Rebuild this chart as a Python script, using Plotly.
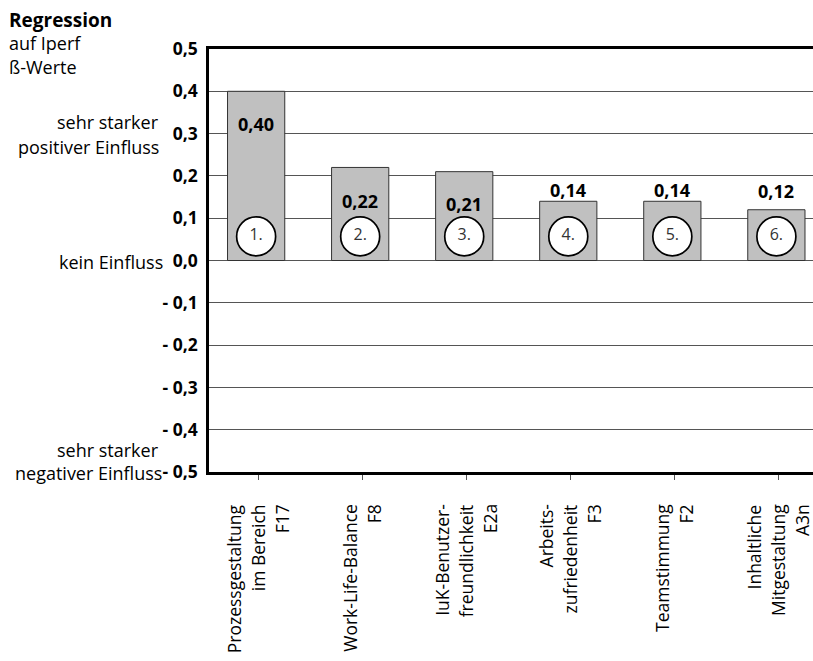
import plotly.graph_objects as go

# --- data -------------------------------------------------------------
category_lines = [
    ["Prozessgestaltung", "im Bereich", "F17"],
    ["Work-Life-Balance", "F8"],
    ["IuK-Benutzer-", "freundlichkeit", "E2a"],
    ["Arbeits-", "zufriedenheit", "F3"],
    ["Teamstimmung", "F2"],
    ["Inhaltliche", "Mitgestaltung", "A3n"],
]
beta_values = [0.40, 0.22, 0.21, 0.14, 0.14, 0.12]
rank_labels = ["1.", "2.", "3.", "4.", "5.", "6."]

y_tick_values = [0.5, 0.4, 0.3, 0.2, 0.1, 0.0, -0.1, -0.2, -0.3, -0.4, -0.5]
y_tick_labels = ["0,5", "0,4", "0,3", "0,2", "0,1", "0,0",
                 "- 0,1", "- 0,2", "- 0,3", "- 0,4", "- 0,5"]

# --- page geometry ----------------------------------------------------
W, H = 813, 661
M_L, M_R, M_T, M_B = 209, 0, 49, 189
PW, PH = W - M_L - M_R, H - M_T - M_B
FONT = "Open Sans"


def paper_x(px):
    return (px - M_L) / PW


def paper_y(py):
    return (H - M_B - py) / PH


x_pos = list(range(len(beta_values)))
bar_width = 0.55
bar_offset = -0.30
bar_centers = [x + bar_offset + bar_width / 2 for x in x_pos]

fig = go.Figure()

fig.add_trace(go.Bar(
    x=x_pos,
    y=beta_values,
    width=bar_width,
    offset=bar_offset,
    marker=dict(color="#c0c0c0", line=dict(color="#333333", width=1)),
    hoverinfo="skip",
))

# rank circles near the foot of each bar
fig.add_trace(go.Scatter(
    x=bar_centers,
    y=[0.057] * len(beta_values),
    mode="markers+text",
    marker=dict(size=39, color="white", line=dict(color="black", width=1.7)),
    text=rank_labels,
    textposition="middle center",
    textfont=dict(family=FONT, size=16, color="#333333"),
    hoverinfo="skip",
))

annotations = []

# value labels (inside the tall bars, above the short ones)
label_shift = [-33, -34, -32, 11, 11, 19]
for xc, v, s in zip(bar_centers, beta_values, label_shift):
    annotations.append(dict(
        x=xc, y=v, xref="x", yref="y", yshift=s,
        text=f"{v:.2f}".replace(".", ","),
        showarrow=False, xanchor="center", yanchor="middle",
        font=dict(family=FONT, size=18, color="black", weight="bold"),
    ))

# rotated category labels below the axis
line_gap = 24
for x, lines in zip(x_pos, category_lines):
    n = len(lines)
    for j, line in enumerate(lines):
        annotations.append(dict(
            x=x, y=0, xref="x", yref="paper",
            xshift=(j - (n - 1) / 2) * line_gap - 1, yshift=-30,
            text=line, textangle=-90,
            showarrow=False, xanchor="center", yanchor="top",
            font=dict(family=FONT, size=17.5, color="black"),
        ))

# heading at the top left
for text, py, bold in [("Regression", 20, True), ("auf Iperf", 43, False),
                       ("ß-Werte", 67, False)]:
    annotations.append(dict(
        x=paper_x(7), y=paper_y(py), xref="paper", yref="paper",
        text=text, showarrow=False, xanchor="left", yanchor="middle",
        font=dict(family=FONT, size=19 if bold else 18, color="black",
                  weight="bold" if bold else "normal"),
    ))

# verbal scale descriptions next to the y axis
for text, py, right in [("sehr starker", 122, 161),
                        ("positiver Einfluss", 147, 161),
                        ("kein Einfluss", 262, 165),
                        ("sehr starker", 450, 161),
                        ("negativer Einfluss", 473, 164)]:
    annotations.append(dict(
        x=paper_x(right), y=paper_y(py), xref="paper", yref="paper",
        text=text, showarrow=False, xanchor="right", yanchor="middle",
        font=dict(family=FONT, size=18, color="black"),
    ))

fig.update_layout(
    width=W, height=H,
    margin=dict(l=M_L, r=M_R, t=M_T, b=M_B, pad=0),
    paper_bgcolor="white", plot_bgcolor="white",
    showlegend=False,
    annotations=annotations,
    font=dict(family=FONT, color="black"),
)

fig.update_xaxes(
    range=[-0.478, 5.327],
    tickvals=x_pos, showticklabels=False,
    ticks="outside", ticklen=5, tickwidth=1, tickcolor="#555555",
    showgrid=False, zeroline=False,
    showline=True, linecolor="black", linewidth=2.5, mirror=True,
)

fig.update_yaxes(
    range=[-0.5, 0.5],
    tickvals=y_tick_values, ticktext=y_tick_labels,
    tickfont=dict(family=FONT, size=17.5, color="black", weight="bold"),
    ticks="", ticklabelstandoff=5,
    showgrid=True, gridcolor="#555555", gridwidth=1,
    zeroline=False,
    showline=True, linecolor="black", linewidth=2.5,
)

fig.write_html("out.html")
